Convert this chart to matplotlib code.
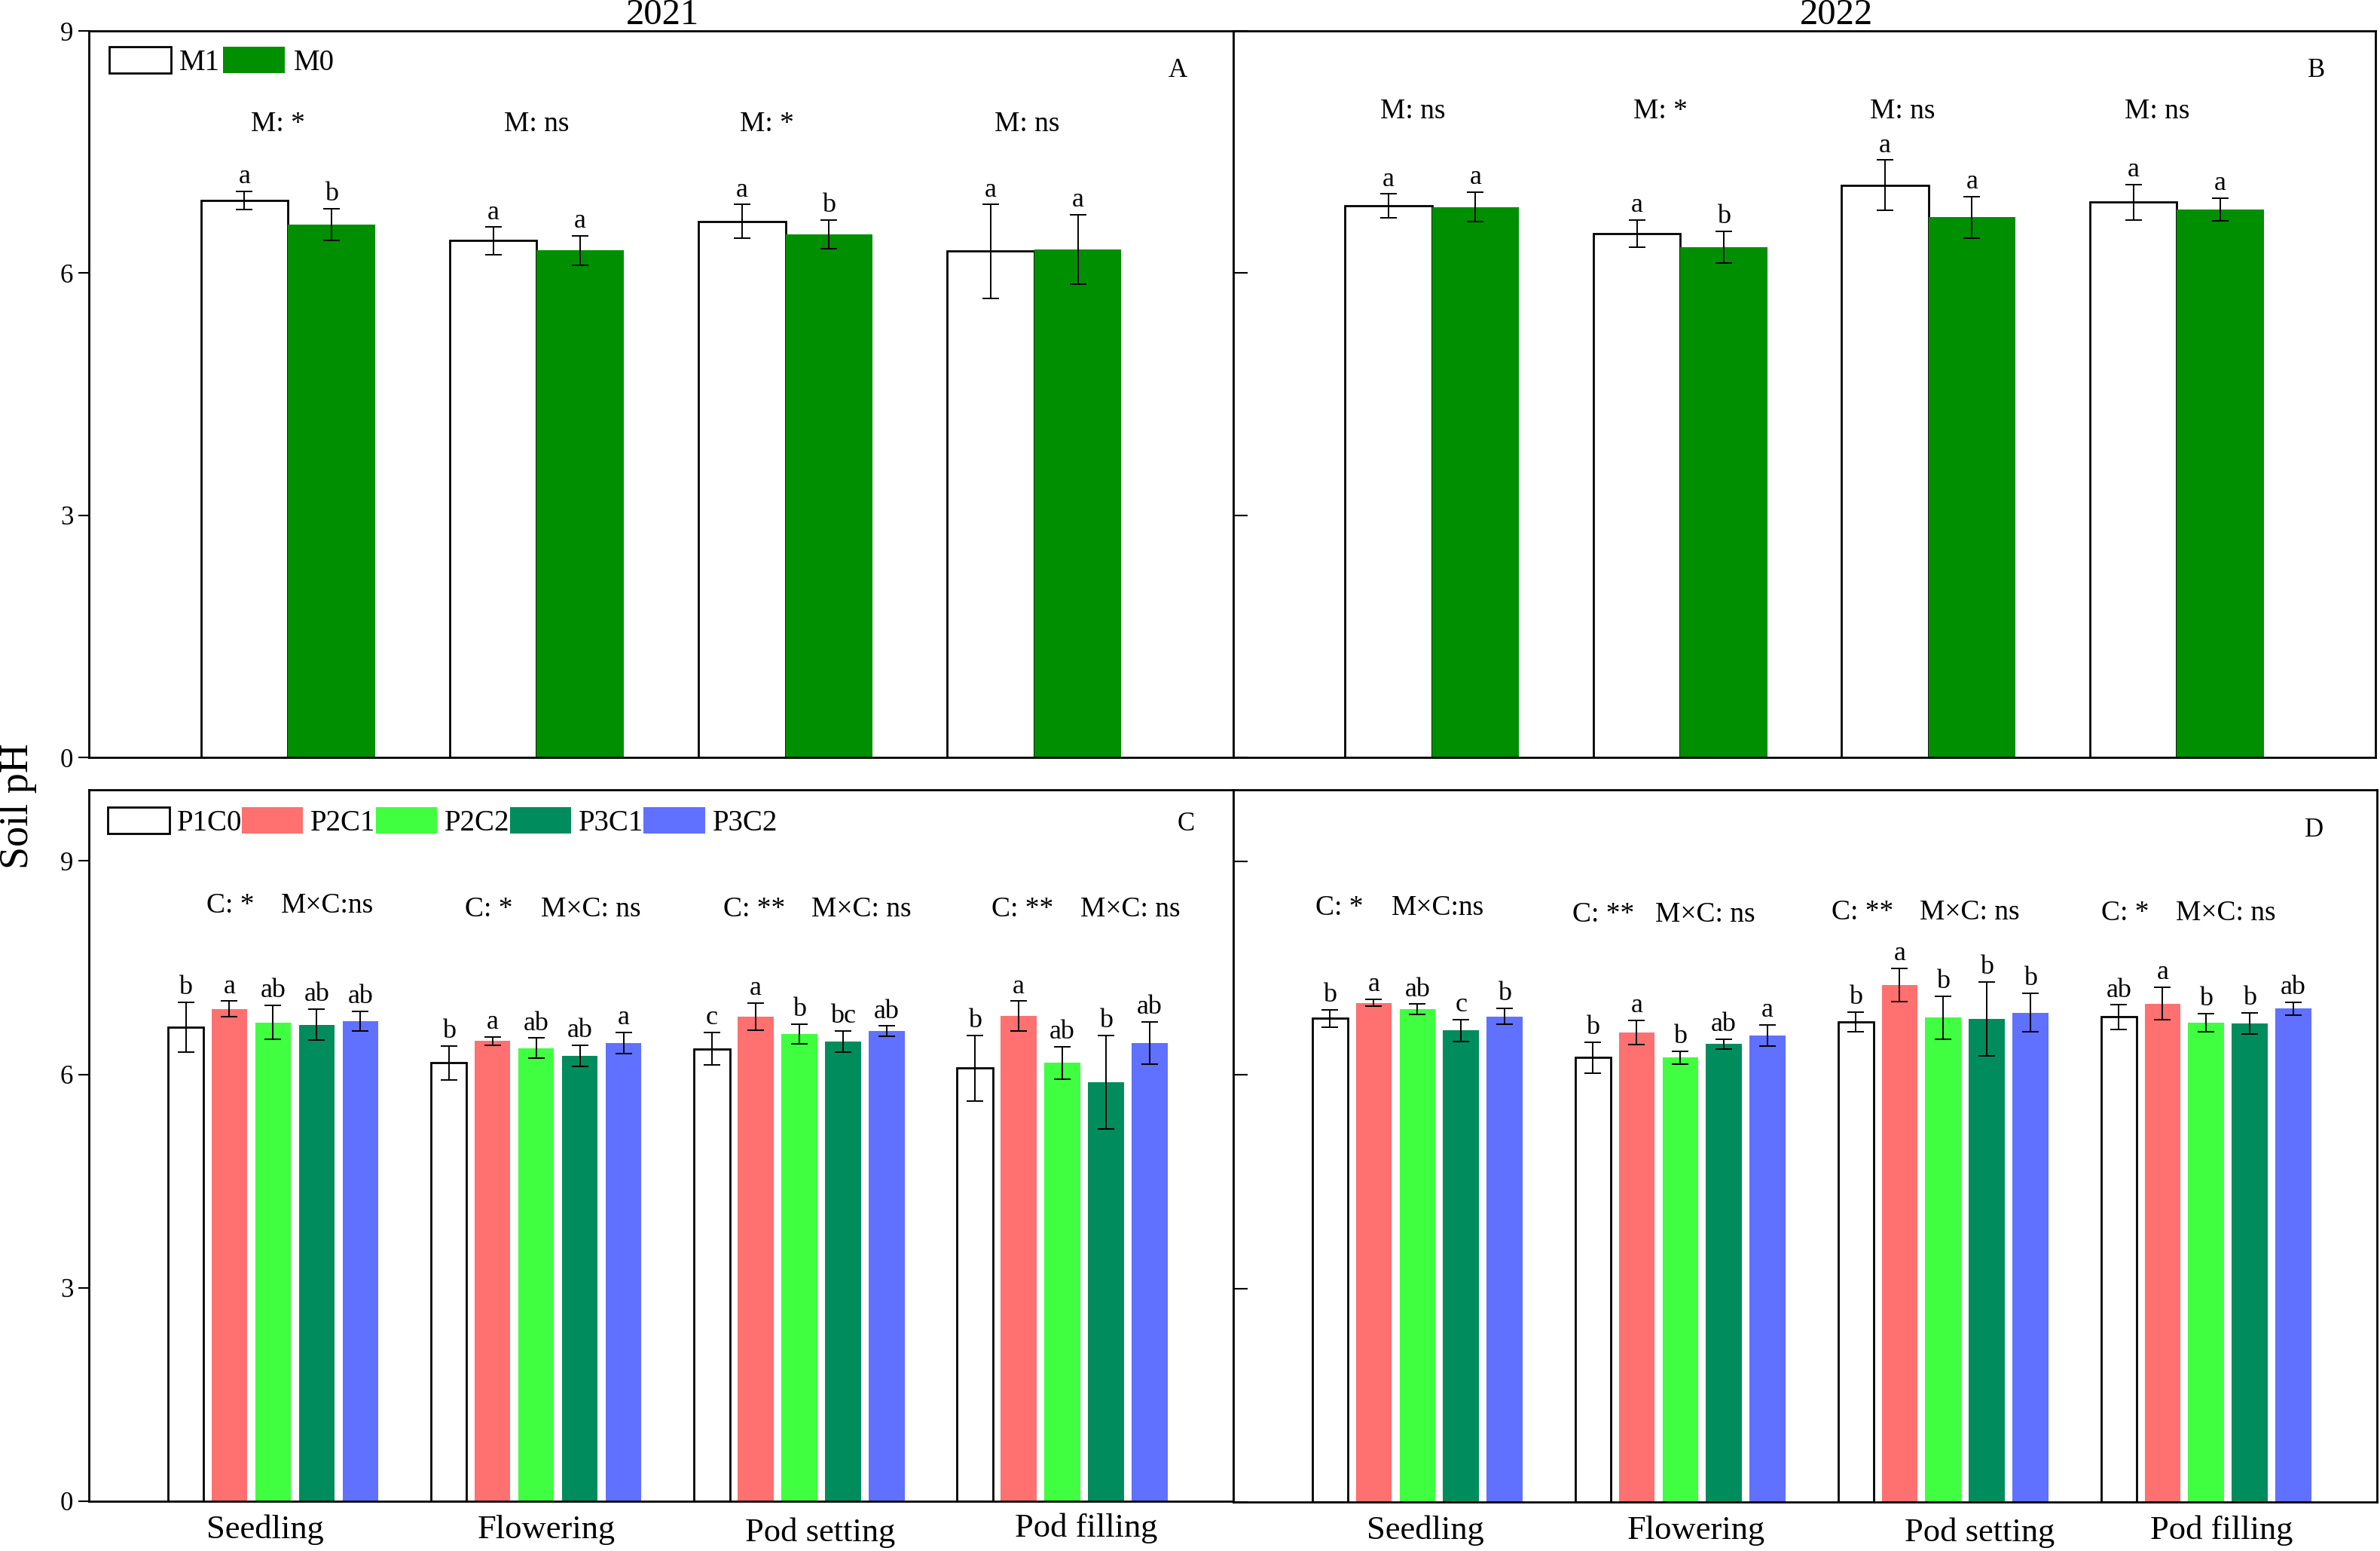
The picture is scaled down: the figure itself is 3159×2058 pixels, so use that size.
import numpy as np
import matplotlib
matplotlib.use("Agg")
import matplotlib.pyplot as plt
import matplotlib.transforms as mtransforms

plt.rcParams['font.family'] = ['Liberation Serif', 'DejaVu Serif']

# stages (x categories)
stages = ["Seedling", "Flowering", "Pod setting", "Pod filling"]

# --- A / B : mulching M1 vs M0 ---
m1_2021 = [6.90, 6.40, 6.64, 6.27]
m1_2021_err = [0.11, 0.17, 0.21, 0.58]
m0_2021 = [6.60, 6.28, 6.48, 6.29]
m0_2021_err = [0.20, 0.18, 0.18, 0.43]
m1_2021_let = ["a", "a", "a", "a"]
m0_2021_let = ["b", "a", "b", "a"]
sig_2021 = ["M: *", "M: ns", "M: *", "M: ns"]

m1_2022 = [6.83, 6.49, 7.09, 6.88]
m1_2022_err = [0.15, 0.17, 0.31, 0.22]
m0_2022 = [6.82, 6.32, 6.69, 6.79]
m0_2022_err = [0.18, 0.20, 0.26, 0.14]
m1_2022_let = ["a", "a", "a", "a"]
m0_2022_let = ["a", "b", "a", "a"]
sig_2022 = ["M: ns", "M: *", "M: ns", "M: ns"]

# --- C / D : treatments ---
treat = ["P1C0", "P2C1", "P2C2", "P3C1", "P3C2"]
treat_colors = ["white", "#ff7070", "#40ff40", "#008c5c", "#6070ff"]

c_2021 = [[6.66, 6.16, 6.36, 6.09],
          [6.92, 6.47, 6.81, 6.82],
          [6.73, 6.37, 6.57, 6.16],
          [6.70, 6.26, 6.46, 5.89],
          [6.75, 6.44, 6.61, 6.44]]
c_2021_err = [[0.35, 0.24, 0.23, 0.46],
              [0.11, 0.06, 0.19, 0.21],
              [0.24, 0.14, 0.14, 0.23],
              [0.22, 0.15, 0.15, 0.66],
              [0.14, 0.15, 0.07, 0.30]]
c_2021_let = [["b", "a", "ab", "ab", "ab"],
              ["b", "a", "ab", "ab", "a"],
              ["c", "a", "b", "bc", "ab"],
              ["b", "a", "ab", "b", "ab"]]
c_sig_2021 = ["C: *", "C: *", "C: **", "C: **"]
mc_sig_2021 = ["M×C:ns", "M×C: ns", "M×C: ns", "M×C: ns"]

c_2022 = [[6.79, 6.24, 6.74, 6.81],
          [7.01, 6.59, 7.26, 7.00],
          [6.92, 6.24, 6.80, 6.73],
          [6.62, 6.43, 6.78, 6.72],
          [6.82, 6.55, 6.87, 6.93]]
c_2022_err = [[0.12, 0.22, 0.14, 0.17],
              [0.05, 0.17, 0.23, 0.23],
              [0.07, 0.09, 0.30, 0.13],
              [0.15, 0.07, 0.52, 0.15],
              [0.11, 0.15, 0.27, 0.09]]
c_2022_let = [["b", "a", "ab", "c", "b"],
              ["b", "a", "b", "ab", "a"],
              ["b", "a", "b", "b", "b"],
              ["ab", "a", "b", "b", "ab"]]
c_sig_2022 = ["C: *", "C: **", "C: **", "C: *"]
mc_sig_2022 = ["M×C:ns", "M×C: ns", "M×C: ns", "M×C: ns"]

W, H = 3159, 2058
fig = plt.figure(figsize=(W / 100, H / 100), dpi=100)


def px_axes(l, t, r, b):
    return fig.add_axes([l / W, 1 - b / H, (r - l) / W, (b - t) / H])


axA = px_axes(118, 41, 1637, 1005)
axB = px_axes(1637, 41, 3153, 1005)
axC = px_axes(118, 1048, 1637, 1992)
axD = px_axes(1637, 1048, 3155, 1993)

ekw = dict(ecolor="black", elinewidth=1.4, capsize=8, capthick=1.4)
x = np.arange(len(stages))


def style(ax, ylim, labels):
    ax.set_ylim(0, ylim)
    ax.set_yticks([0, 3, 6, 9])
    for s in ax.spines.values():
        s.set_linewidth(2)
    ax.tick_params(axis="x", bottom=False, labelbottom=False)
    if labels:
        ax.tick_params(axis="y", direction="out", length=10, width=1.5,
                       labelsize=25, pad=5)
    else:
        ax.tick_params(axis="y", direction="in", length=14, width=1.5,
                       labelleft=False)


def letter(ax, xx, top, txt):
    ax.annotate(txt, (xx, top), xytext=(0, 2), textcoords="offset points",
                ha="center", va="bottom", fontsize=26)


# panels A and B
for ax, m1, m1e, m0, m0e, l1, l0, sig, soff, sy in [
        (axA, m1_2021, m1_2021_err, m0_2021, m0_2021_err, m1_2021_let, m0_2021_let,
         sig_2021, [-0.04, 0, -0.076, -0.03], 7.84),
        (axB, m1_2022, m1_2022_err, m0_2022, m0_2022_err, m1_2022_let, m0_2022_let,
         sig_2022, [-0.076, -0.08, -0.106, -0.08], 8.0)]:
    w = 0.35
    ax.bar(x - w / 2, m1, w, yerr=m1e, color="white", edgecolor="black",
           linewidth=2, error_kw=ekw, label="M1")
    ax.bar(x + w / 2, m0, w, yerr=m0e, color="#008f00", edgecolor="none",
           error_kw=ekw, label="M0")
    for i in range(len(stages)):
        letter(ax, x[i] - w / 2, m1[i] + m1e[i], l1[i])
        letter(ax, x[i] + w / 2, m0[i] + m0e[i], l0[i])
        ax.text(x[i] + soff[i], sy, sig[i], ha="center", va="center", fontsize=27)
    ax.set_xlim(-0.8, 3.8)
    style(ax, 9, ax is axA)

axA.legend(loc="upper left", bbox_to_anchor=(27 / 1519, 1 - 21 / 964), ncol=2,
           frameon=False, fontsize=28, handlelength=2.1, handleheight=1.0,
           handletextpad=0.3, columnspacing=0.1, borderpad=0, borderaxespad=0)

# panels C and D
for ax, vals, errs, lets, csig, mcsig, offl, offr, sys_, lab_off, lab_y in [
        (axC, c_2021, c_2021_err, c_2021_let, c_sig_2021, mc_sig_2021,
         [-0.252, -0.27, -0.29, -0.27], [0.03, 0.017, 0.046, 0.07],
         [8.37, 8.32, 8.32, 8.32], [-0.03, 0.04, 0.08, 0.09],
         [-0.040, -0.040, -0.044, -0.038]),
        (axD, c_2022, c_2022_err, c_2022_let, c_sig_2022, mc_sig_2022,
         [-0.387, -0.41, -0.424, -0.40], [-0.10, -0.095, -0.089, -0.115],
         [8.34, 8.25, 8.28, 8.27], [0.03, 0.06, 0.14, 0.06],
         [-0.040, -0.040, -0.043, -0.040])]:
    step, w = 0.166, 0.136
    for k in range(len(treat)):
        xk = x + (k - 2) * step
        if k == 0:
            ax.bar(xk, vals[k], w, yerr=errs[k], color="white", edgecolor="black",
                   linewidth=2, error_kw=ekw, label=treat[k])
        else:
            ax.bar(xk, vals[k], w, yerr=errs[k], color=treat_colors[k],
                   edgecolor="none", error_kw=ekw, label=treat[k])
        for i in range(len(stages)):
            letter(ax, xk[i], vals[k][i] + errs[k][i], lets[i][k])
    trans = mtransforms.blended_transform_factory(ax.transData, ax.transAxes)
    for i in range(len(stages)):
        ax.text(x[i] + offl[i], sys_[i], csig[i], ha="left", va="center", fontsize=27)
        ax.text(x[i] + offr[i], sys_[i], mcsig[i], ha="left", va="center", fontsize=27)
        ax.text(x[i] + lab_off[i], lab_y[i], stages[i], transform=trans,
                ha="center", va="center", fontsize=32)
    ax.set_xlim(-0.70, 3.65)
    style(ax, 10, ax is axC)

axC.legend(loc="upper left", bbox_to_anchor=(25 / 1519, 1 - 23 / 944), ncol=5,
           frameon=False, fontsize=28, handlelength=2.1, handleheight=1.0,
           handletextpad=0.25, columnspacing=0.0, borderpad=0, borderaxespad=0)

# titles, panel letters, y label
fig.text(879 / W, 1 - 20 / H, "2021", ha="center", va="center", fontsize=35)
fig.text(2437 / W, 1 - 20 / H, "2022", ha="center", va="center", fontsize=35)
for txt, px, py in [("A", 1563, 94), ("B", 3075, 94), ("C", 1574, 1094), ("D", 3072, 1101)]:
    fig.text(px / W, 1 - py / H, txt, ha="center", va="center", fontsize=25)
fig.text(24 / W, 1 - 1070 / H, "Soil pH", rotation=90, ha="center", va="center",
         fontsize=39)

fig.savefig("out.png", dpi=100)
